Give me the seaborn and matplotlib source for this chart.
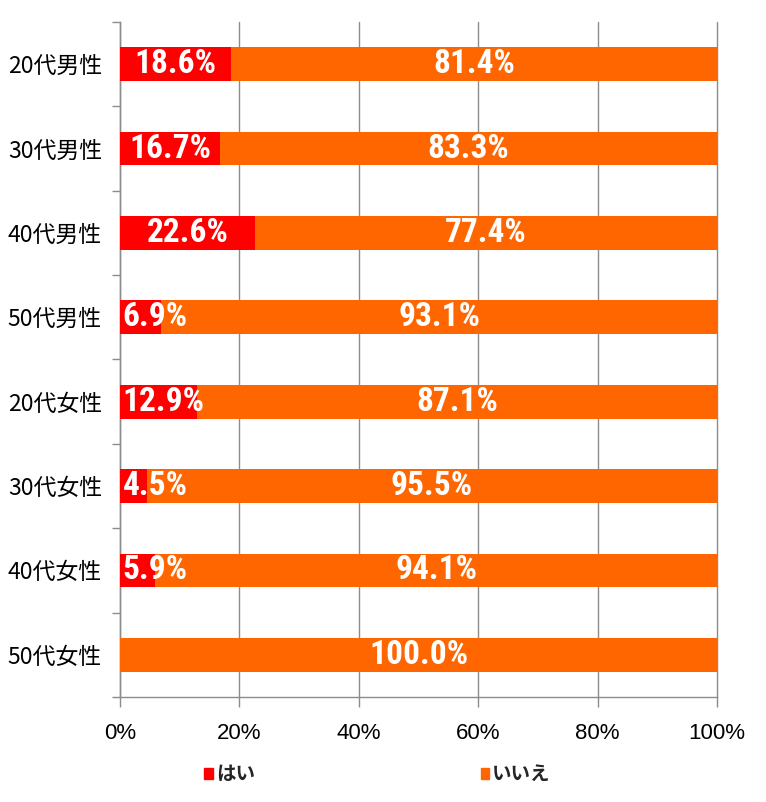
import matplotlib
matplotlib.use('Agg')
import matplotlib.pyplot as plt
import seaborn as sns
import pandas as pd
import numpy as np
from matplotlib import font_manager
from matplotlib.patches import Patch
from matplotlib.ticker import FixedLocator, PercentFormatter

# data
groups = ['20代男性', '30代男性', '40代男性', '50代男性',
          '20代女性', '30代女性', '40代女性', '50代女性']
yes_vals = [18.6, 16.7, 22.6, 6.9, 12.9, 4.5, 5.9, 0.0]
no_vals = [81.4, 83.3, 77.4, 93.1, 87.1, 95.5, 94.1, 100.0]
x_ticks = [0, 20, 40, 60, 80, 100]

RED = '#FF0000'
ORANGE = '#FF6600'
GRAY = '#8C8C8C'

df = pd.DataFrame({'group': groups, 'はい': yes_vals, 'いいえ': no_vals})
df['total'] = df['はい'] + df['いいえ']

sns.set_theme(style='white')
plt.rcParams['font.family'] = ['Noto Sans CJK JP', 'DejaVu Sans']

# pick a narrow face for the value labels if one is installed
installed = {f.name for f in font_manager.fontManager.ttflist}
label_font = dict(weight='bold', color='white')
narrow = [n for n in ['Liberation Sans Narrow', 'Roboto Condensed',
                      'Open Sans Condensed', 'DejaVu Sans Condensed']
          if n in installed]
if narrow:
    label_font.update(family=[narrow[0], 'DejaVu Sans'], size=24)
else:
    label_font.update(family=['Liberation Sans', 'DejaVu Sans'], size=19)

fig = plt.figure(figsize=(7.66, 8.02), dpi=100)
ax = fig.add_axes([0.1567, 0.1309, 0.7794, 0.8417])

# stacked bars: full length in orange, then the "はい" share in red on top
sns.barplot(data=df, x='total', y='group', orient='h', color=ORANGE,
            saturation=1, width=0.4, errorbar=None, linewidth=0,
            ax=ax, zorder=3)
sns.barplot(data=df, x='はい', y='group', orient='h', color=RED,
            saturation=1, width=0.4, errorbar=None, linewidth=0,
            ax=ax, zorder=4)

for i, (yv, nv) in enumerate(zip(yes_vals, no_vals)):
    if yv > 0:
        if yv < 14:
            ax.text(0.4, i, f'{yv:.1f}%', ha='left', va='center',
                    zorder=5, **label_font)
        else:
            ax.text(yv / 2, i, f'{yv:.1f}%', ha='center', va='center',
                    zorder=5, **label_font)
    ax.text(yv + nv / 2, i, f'{nv:.1f}%', ha='center', va='center',
            zorder=5, **label_font)

ax.set_xlim(0, 100)
ax.set_ylim(len(groups) - 0.5, -0.5)
ax.set_xticks(x_ticks)
ax.xaxis.set_major_formatter(PercentFormatter(decimals=0))
ax.set_xlabel('')
ax.set_ylabel('')

ax.xaxis.grid(True, color=GRAY, linewidth=1)
for gl in ax.get_xgridlines():
    gl.set_clip_on(False)
ax.set_axisbelow(True)

for side in ['top', 'right']:
    ax.spines[side].set_visible(False)
for side in ['left', 'bottom']:
    ax.spines[side].set_color(GRAY)
    ax.spines[side].set_linewidth(1)

ax.yaxis.set_minor_locator(FixedLocator(np.arange(-0.5, len(groups), 1)))
ax.tick_params(axis='x', bottom=True, length=7, width=1, color=GRAY,
               pad=12, labelcolor='black')
ax.tick_params(axis='y', which='major', left=False, length=0, pad=13,
               labelsize=16.5, labelcolor='black')
ax.tick_params(axis='y', which='minor', left=True, length=6, width=1,
               color=GRAY)
for lab in ax.get_xticklabels():
    lab.set_family(['Liberation Sans', 'DejaVu Sans'])
    lab.set_fontsize(16)

handles = [Patch(color=RED, label='はい'), Patch(color=ORANGE, label='いいえ')]
fig.legend(handles=handles, loc='center', bbox_to_anchor=(0.493, 0.034),
           ncol=2, frameon=False, handlelength=0.45, handleheight=0.45,
           handletextpad=0.15, columnspacing=11.6,
           prop={'weight': 'bold', 'size': 14})

fig.savefig('out.png', dpi=100)
